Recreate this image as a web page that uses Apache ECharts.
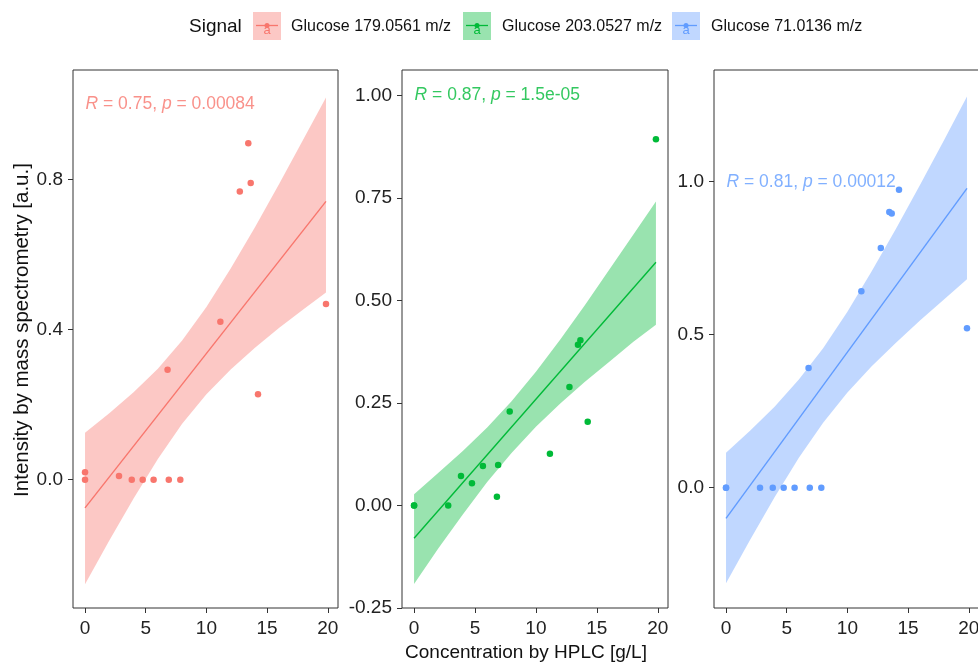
<!DOCTYPE html>
<html>
<head>
<meta charset="utf-8">
<script src="https://cdn.jsdelivr.net/npm/echarts@6/dist/echarts.min.js"></script>
<style>
  html, body { margin: 0; padding: 0; background: #ffffff; }
  #chart { width: 978px; height: 664px; }
</style>
</head>
<body>
<div id="chart"></div>
<script>
// Glucose concentration measured by HPLC (g/L), shared by all three signals
const concHPLC = [0, 0, 2.8, 3.85, 4.75, 5.65, 6.8, 6.9, 7.85, 11.15, 12.75, 13.45, 13.65, 14.25, 19.85];

// Mass-spectrometry intensity (a.u.) per signal
const int179 = [0.02, 0, 0.01, 0, 0, 0, 0.293, 0, 0, 0.421, 0.768, 0.897, 0.791, 0.228, 0.468];
const int203 = [0, 0, 0, 0.072, 0.054, 0.096, 0.021, 0.099, 0.229, 0.126, 0.289, 0.392, 0.403, 0.204, 0.893];
const int71  = [0, 0, 0, 0, 0, 0, 0.391, 0, 0, 0.642, 0.783, 0.901, 0.896, 0.974, 0.521];

// Linear fit end points
const fitX   = [0, 19.85];
const fit179 = [-0.075, 0.742];
const fit203 = [-0.080, 0.593];
const fit71  = [-0.100, 0.978];

// 95% confidence band of the fit
const bandX    = [0, 2, 4, 6, 8, 10, 12, 14, 16, 18, 19.85];
const upper179 = [0.125, 0.177, 0.233, 0.296, 0.371, 0.460, 0.563, 0.673, 0.789, 0.908, 1.019];
const lower179 = [-0.279, -0.162, -0.050, 0.055, 0.149, 0.228, 0.294, 0.352, 0.405, 0.454, 0.499];
const upper203 = [0.0275, 0.080, 0.133, 0.190, 0.254, 0.326, 0.405, 0.488, 0.574, 0.661, 0.7415];
const lower203 = [-0.1916, -0.104, -0.022, 0.057, 0.128, 0.192, 0.249, 0.301, 0.350, 0.399, 0.441];
const upper71  = [0.114, 0.187, 0.265, 0.354, 0.456, 0.575, 0.707, 0.846, 0.991, 1.139, 1.278];
const lower71  = [-0.3125, -0.169, -0.031, 0.098, 0.212, 0.311, 0.397, 0.474, 0.547, 0.617, 0.681];

// Correlation annotations
const corR = ['0.75', '0.87', '0.81'];
const corP = ['0.00084', '1.5e-05', '0.00012'];
const corPos = [0, 1.0];

// Signals and axis ticks
const signalNames = ['Glucose 179.0561 m/z', 'Glucose 203.0527 m/z', 'Glucose 71.0136 m/z'];
const xTicks = [0, 5, 10, 15, 20];
const yTicks = [[0, 0.4, 0.8], [-0.25, 0, 0.25, 0.5, 0.75, 1.0], [0, 0.5, 1.0]];
const yDecimals = [1, 2, 1];

// ---- styling ----
const FONT = '"Liberation Sans", Arial, Helvetica, sans-serif';
const colors = ['#F8766D', '#00BA38', '#619CFF'];
const fills = ['rgba(248,118,109,0.4)', 'rgba(0,186,56,0.4)', 'rgba(97,156,255,0.4)'];
const yRange = [[-0.342, 1.092], [-0.25, 1.062], [-0.393, 1.365]];
const xRange = [-0.99, 20.84];
const panels = [
  { left: 73, top: 70, width: 265, height: 538 },
  { left: 402, top: 70, width: 266, height: 538 },
  { left: 714, top: 70, width: 265, height: 538 }
];

const intensities = [int179, int203, int71];
const fits = [fit179, fit203, fit71];
const uppers = [upper179, upper203, upper71];
const lowers = [lower179, lower203, lower71];

const grid = panels.map(p => Object.assign({
  show: true, borderColor: '#333333', borderWidth: 1, backgroundColor: 'transparent',
  containLabel: false, outerBoundsMode: 'none'
}, p));

const xAxis = panels.map((p, i) => ({
  gridIndex: i, type: 'value', min: xRange[0], max: xRange[1], position: 'bottom',
  axisLine: { show: false, onZero: false }, splitLine: { show: false },
  axisTick: { show: true, length: 5, lineStyle: { color: '#333333', width: 1 }, customValues: xTicks },
  axisLabel: { customValues: xTicks, fontSize: 19, fontFamily: FONT, color: '#222222', margin: 11 }
}));

const yAxis = panels.map((p, i) => ({
  gridIndex: i, type: 'value', min: yRange[i][0], max: yRange[i][1], position: 'left',
  axisLine: { show: false, onZero: false }, splitLine: { show: false },
  axisTick: { show: true, length: 5, lineStyle: { color: '#333333', width: 1 }, customValues: yTicks[i] },
  axisLabel: {
    customValues: yTicks[i], fontSize: 19, fontFamily: FONT, color: '#222222', margin: 10,
    formatter: v => Number(v).toFixed(yDecimals[i])
  }
}));

const series = [];
panels.forEach((p, i) => {
  const up = uppers[i], lo = lowers[i];
  // confidence band as one filled polygon
  series.push({
    type: 'custom', xAxisIndex: i, yAxisIndex: i, z: 1, silent: true,
    data: bandX.map((x, k) => [x, lo[k], up[k]]),
    encode: { x: 0, y: [1, 2] },
    renderItem: function (params, api) {
      if (params.dataIndex !== 0) return null;
      const pts = [];
      for (let k = 0; k < bandX.length; k++) pts.push(api.coord([bandX[k], up[k]]));
      for (let k = bandX.length - 1; k >= 0; k--) pts.push(api.coord([bandX[k], lo[k]]));
      return { type: 'polygon', shape: { points: pts }, style: { fill: fills[i], stroke: null } };
    }
  });
  // fitted line
  series.push({
    type: 'line', xAxisIndex: i, yAxisIndex: i, z: 2, silent: true,
    data: fitX.map((x, k) => [x, fits[i][k]]),
    showSymbol: false, lineStyle: { color: colors[i], width: 1.4 }
  });
  // measured points
  series.push({
    name: signalNames[i], type: 'scatter', xAxisIndex: i, yAxisIndex: i, z: 3,
    data: concHPLC.map((x, k) => [x, intensities[i][k]]),
    symbolSize: 6.5, itemStyle: { color: colors[i], opacity: 1 }
  });
  // correlation label
  series.push({
    type: 'scatter', xAxisIndex: i, yAxisIndex: i, z: 4, silent: true,
    data: [corPos], symbolSize: 1, itemStyle: { color: 'transparent' },
    label: {
      show: true, position: 'right', distance: 0,
      formatter: '{i|R}{n| = ' + corR[i] + ', }{i|p}{n| = ' + corP[i] + '}',
      rich: {
        i: { fontStyle: 'italic', fontSize: 17.5, fontFamily: FONT, color: colors[i] },
        n: { fontSize: 17.5, fontFamily: FONT, color: colors[i] }
      }
    }
  });
});

// legend drawn as graphic elements
const graphic = [];
graphic.push({ type: 'text', left: 189, top: 17, style: { text: 'Signal', font: '19px ' + FONT, fill: '#111111' } });
const keyX = [253, 463, 672];
const labelX = [291, 502, 711];
signalNames.forEach((name, i) => {
  graphic.push({ type: 'rect', shape: { x: keyX[i], y: 12, width: 28, height: 28 }, style: { fill: fills[i] } });
  graphic.push({ type: 'line', shape: { x1: keyX[i] + 3, y1: 25.5, x2: keyX[i] + 25, y2: 25.5 }, style: { stroke: colors[i], lineWidth: 1.3 } });
  graphic.push({ type: 'circle', shape: { cx: keyX[i] + 14, cy: 25.5, r: 2.5 }, style: { fill: colors[i] } });
  graphic.push({ type: 'text', x: keyX[i] + 14, y: 30.5, style: { text: 'a', font: '13px ' + FONT, fill: colors[i], align: 'center', verticalAlign: 'middle' } });
  graphic.push({ type: 'text', left: labelX[i], top: 19, style: { text: name, font: '16px ' + FONT, fill: '#111111' } });
});
// axis titles
graphic.push({
  type: 'text', x: 526, y: 653,
  style: { text: 'Concentration by HPLC [g/L]', font: '19px ' + FONT, fill: '#111111', align: 'center', verticalAlign: 'middle' }
});
graphic.push({
  type: 'text', x: 22, y: 330, rotation: Math.PI / 2,
  style: { text: 'Intensity by mass spectrometry [a.u.]', font: '20.5px ' + FONT, fill: '#111111', align: 'center', verticalAlign: 'middle' }
});

const chart = echarts.init(document.getElementById('chart'), null, { renderer: 'canvas' });
chart.setOption({
  animation: false,
  backgroundColor: '#ffffff',
  grid, xAxis, yAxis, series, graphic
});
</script>
</body>
</html>
